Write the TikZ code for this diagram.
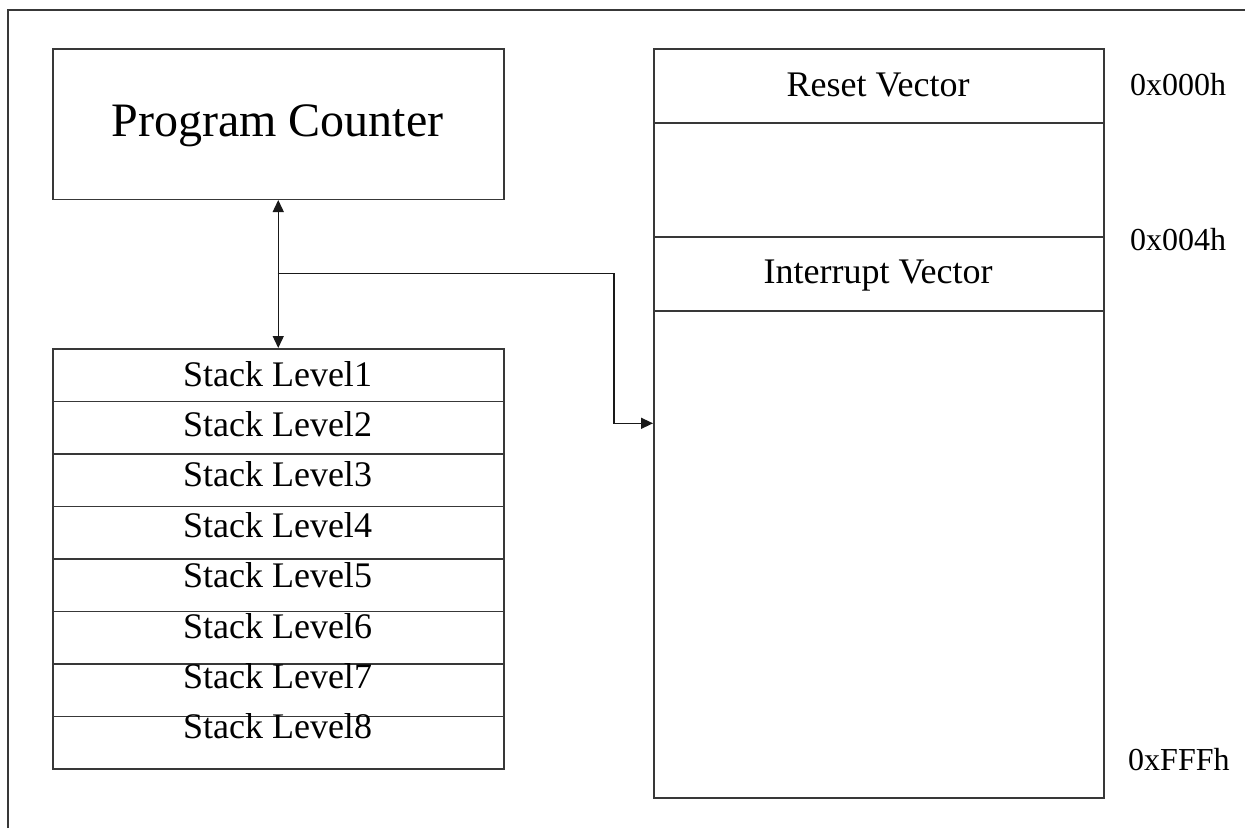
\documentclass[tikz,border=0pt]{standalone}
\usepackage{fontspec}
\setmainfont{Liberation Serif}
\usetikzlibrary{arrows.meta}
\begin{document}
\begin{tikzpicture}[x=1pt,y=-1pt,
  ln/.style={draw=black!78, line width=1.5pt},
  box/.style={ln, rectangle, inner sep=0pt, anchor=north west, minimum width=451pt},
  mbox/.style={ln, rectangle, inner sep=0pt, anchor=north west, minimum width=450pt},
  lbl/.style={inner sep=0pt, anchor=base, font=\fontsize{36}{40}\selectfont},
  addr/.style={inner sep=0pt, anchor=base west, font=\fontsize{32}{36}\selectfont},
  conn/.style={draw=black!90, line width=1.4pt},
  tip/.style={-{Triangle[length=12pt,width=11pt]}},
  dtip/.style={{Triangle[length=12pt,width=11pt]}-{Triangle[length=12pt,width=11pt]}}
]
\useasboundingbox (0,0) rectangle (1245,828);
\draw[ln] (8,828) -- (8,10) -- (1245,10);

% Program counter
\node[box, minimum height=150.5pt] (pc) at (52,48) {};
\node[inner sep=0pt, anchor=base, font=\fontsize{48}{52}\selectfont] (pct) at (277.5,136.7) {Program Counter};

% Stack
\foreach \i in {1,...,8} {
  \node[box, minimum height=52.5pt] (s\i) at (52,{348+52.5*(\i-1)}) {};
  \node[lbl] (st\i) at (277.5,{386+50.4*(\i-1)}) {Stack Level\i};
}

% Memory map
\node[mbox, minimum height=74pt] (reset) at (653,48) {};
\node[mbox, minimum height=114pt] (gap) at (653,122) {};
\node[mbox, minimum height=74pt] (intr) at (653,236) {};
\node[mbox, minimum height=487pt] (rest) at (653,310) {};
\node[lbl] (resett) at (878,96.7) {Reset Vector};
\node[lbl] (intrt) at (878,283.3) {Interrupt Vector};
\node[addr] (a0) at (1130,95) {0x000h};
\node[addr] (a4) at (1130,250.7) {0x004h};
\node[addr] (af) at (1128,770) {0xFFFh};

% Connectors
\draw[conn, dtip] (pc.south) -- (s1.north);
\coordinate (j) at (277.5,273.3);
\coordinate (b1) at (614,273.3);
\coordinate (b2) at (614,423.3);
\draw[conn, tip] (j) -- (b1) -- (b2) -- (b2 -| rest.west);
\end{tikzpicture}
\end{document}
